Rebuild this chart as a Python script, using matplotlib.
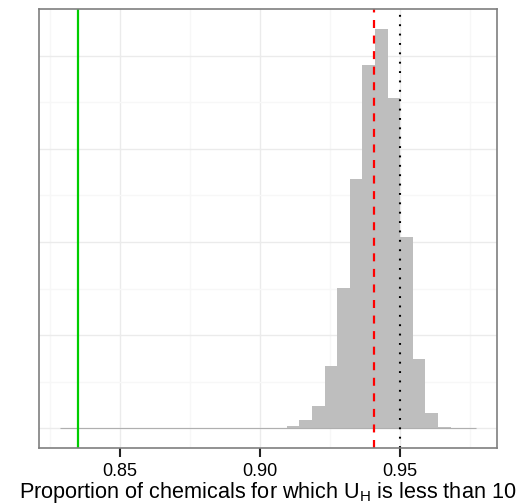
import numpy as np
import matplotlib.pyplot as plt

plt.rcParams['font.family'] = ['Liberation Sans', 'DejaVu Sans']
plt.rcParams['mathtext.fontset'] = 'custom'
plt.rcParams['mathtext.rm'] = 'Liberation Sans'
plt.rcParams['mathtext.it'] = 'Liberation Sans'
plt.rcParams['mathtext.default'] = 'regular'

# histogram of simulated proportions (bin width 0.0045)
bin_start = 0.8285
bin_width = 0.0045
counts = [1, 1, 1, 1, 1, 1, 1, 1, 1, 1, 1, 1, 2, 2, 2, 2, 2, 2,
          11, 44, 119, 334, 751, 1340, 1950, 2143, 1775, 1029, 373, 82, 9, 3, 3]

# reference lines
observed = 0.8349      # green solid
sim_mean = 0.9408      # red dashed
nominal = 0.95         # black dotted

x_ticks = [0.85, 0.90, 0.95]
x_tick_labels = ["0.85", "0.90", "0.95"]
x_minor = [0.825, 0.875, 0.925, 0.975]
y_major = [0, 500, 1000, 1500, 2000]
y_minor = [250, 750, 1250, 1750]

counts = np.array(counts)
edges = bin_start + bin_width * np.arange(len(counts) + 1)

W, H = 529, 504
fig = plt.figure(figsize=(W / 100, H / 100), dpi=100)
ax = fig.add_axes([39 / W, (H - 448.3) / H, (496.7 - 39) / W, (448.3 - 9) / H])

ax.bar(edges[:-1], counts, width=bin_width, align='edge', color='#BEBEBE',
       linewidth=0, zorder=2)
ax.hlines(0, edges[0], edges[-1], color='#AFAFAF', lw=0.8, zorder=2)

ax.axvline(observed, color='#00CD00', lw=1.6, zorder=3)
ax.axvline(sim_mean, color='#FF0000', lw=1.6, ls=(0, (3.6, 3.4)), zorder=3)
ax.axvline(nominal, color='black', lw=1.5, ls=(0, (0.9, 3.6)), zorder=3)

span = edges[-1] - edges[0]
ax.set_xlim(edges[0] - 0.05 * span, edges[-1] + 0.05 * span)
ymax = counts.max()
ax.set_ylim(-0.05 * ymax, 1.05 * ymax)

ax.set_xticks(x_ticks)
ax.set_xticklabels(x_tick_labels)
ax.set_xticks(x_minor, minor=True)
ax.set_yticks(y_major)
ax.set_yticks(y_minor, minor=True)

ax.grid(True, which='major', color='#EBEBEB', lw=1.0, zorder=0)
ax.grid(True, which='minor', color='#F7F7F7', lw=1.0, zorder=0)
ax.set_axisbelow(True)

ax.tick_params(axis='x', which='major', length=6.5, width=1.5, color='#222222',
               labelsize=13, pad=4, labelcolor='black')
ax.tick_params(axis='x', which='minor', length=0)
ax.tick_params(axis='y', which='both', length=0, labelleft=False)

for s in ax.spines.values():
    s.set_color('#7F7F7F')
    s.set_linewidth(1.2)
    s.set_zorder(4)

ax.set_xlabel("Proportion of chemicals for which U$_{H}$ is less than 10",
              fontsize=15.6, labelpad=0)

fig.savefig("out.png", dpi=100)
